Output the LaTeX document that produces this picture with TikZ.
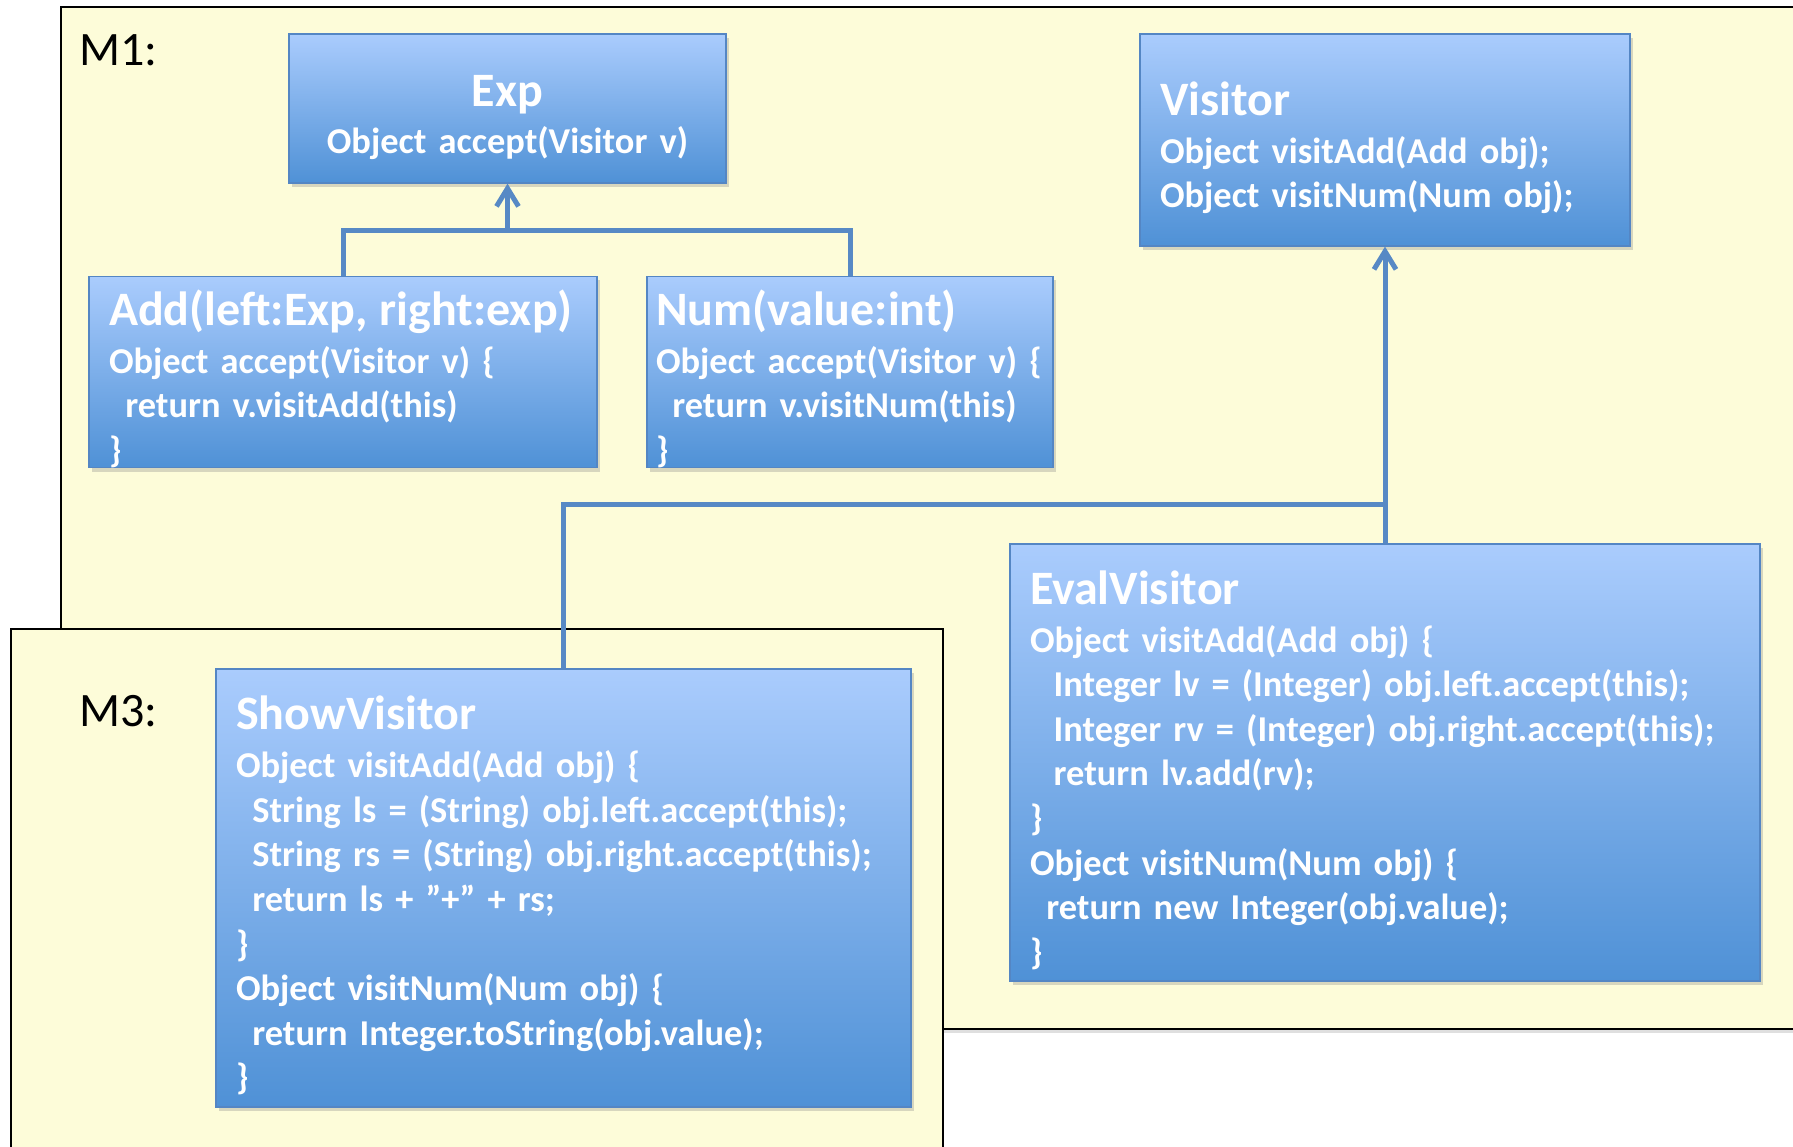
\documentclass[tikz,border=0pt]{standalone}
\usepackage{fontspec}
\setmainfont{Carlito}[WordSpace=0.8]
\usetikzlibrary{arrows.meta,shadows}

\definecolor{slidecream}{RGB}{253,252,217}
\definecolor{boxtop}{RGB}{170,204,253}
\definecolor{boxbottom}{RGB}{79,145,214}
\definecolor{boxline}{RGB}{84,134,196}
\definecolor{linkblue}{RGB}{87,137,197}

\newcommand{\boxtitle}[1]{{\fontsize{24}{22.3}\selectfont\rule{0pt}{24.5pt}#1}\\[1.6pt]}
\newcommand{\indentby}[1][.45em]{\hspace*{#1}}

\tikzset{
	classbox/.style={draw=boxline, line width=0.6pt, top color=boxtop, bottom color=boxbottom,
		text=white, font=\bfseries\fontsize{18.2}{22.3}\selectfont, align=left,
		inner xsep=10pt, inner ysep=0pt,
		drop shadow={opacity=0.3, shadow xshift=1.5pt, shadow yshift=-2pt}},
	module/.style={draw=black, line width=1.2pt, fill=slidecream,
		drop shadow={opacity=0.25, shadow xshift=0pt, shadow yshift=-2pt}},
	modlabel/.style={font=\fontsize{24}{24}\selectfont, anchor=west},
	link/.style={draw=linkblue, line width=2.5pt},
	inherit/.style={link, -{Straight Barb[length=9pt,width=11pt]}}
}

\begin{document}
\begin{tikzpicture}[x=0.5pt,y=-0.5pt]
	
	\useasboundingbox[fill=white] (0,0) rectangle (1793,1146);
	
	% modules
	\draw[module] (61,7) rectangle (1810,1029);
	\draw[module] (11,629) rectangle (943,1170);
	\node[modlabel] (m1) at (72,50) {M1:};
	\node[modlabel] (m3) at (72,711) {M3:};
	
	% classes in M1
	\node[classbox, align=center, text width=198.5pt, minimum height=74.5pt] (Exp) at (507.5,108.5)
	{\boxtitle{Exp}Object accept(Visitor v)};
	\node[classbox, text width=225pt, minimum height=106pt] (Visitor) at (1385,140)
	{\boxtitle{Visitor}Object visitAdd(Add obj);\\ Object visitNum(Num obj);};
	\node[classbox, text width=234pt, minimum height=95pt] (Add) at (343,372)
	{\boxtitle{Add(left:Exp, right:exp)}Object accept(Visitor v) \{\\
		\indentby return v.visitAdd(this)\\ \}};
	\node[classbox, inner xsep=4.5pt, text width=194pt, minimum height=95pt] (Num) at (850,372)
	{\boxtitle{Num(value:int)}\mbox{Object accept(Visitor v) \{}\\
		\indentby return v.visitNum(this)\\ \}};
	\node[classbox, text width=355pt, minimum height=218.5pt] (EvalVisitor) at (1385,762.5)
	{\boxtitle{EvalVisitor}Object visitAdd(Add obj) \{\\
		\indentby[.65em]Integer lv = (Integer) obj.left.accept(this);\\
		\indentby[.65em]Integer rv = (Integer) obj.right.accept(this);\\
		\indentby[.65em]return lv.add(rv);\\
		\}\\
		Object visitNum(Num obj) \{\\
		\indentby return new Integer(obj.value);\\
		\}};
	
	% class in M3
	\node[classbox, text width=327.5pt, minimum height=219pt] (ShowVisitor) at (563.5,888)
	{\boxtitle{ShowVisitor}Object visitAdd(Add obj) \{\\
		\indentby String ls = (String) obj.left.accept(this);\\
		\indentby String rs = (String) obj.right.accept(this);\\
		\indentby return ls + ”+” + rs;\\
		\}\\
		Object visitNum(Num obj) \{\\
		\indentby return Integer.toString(obj.value);\\
		\}};
	
	% inheritance
	\coordinate (expjoin) at (507.5,230);
	\coordinate (visjoin) at (1385,504);
	\draw[link] (Add.north) |- (expjoin) -| (Num.north);
	\draw[inherit] (expjoin) -- (Exp.south);
	\draw[link] (ShowVisitor.north) |- (visjoin);
	\draw[inherit] (EvalVisitor.north) -- (Visitor.south);
	
\end{tikzpicture}
\end{document}
